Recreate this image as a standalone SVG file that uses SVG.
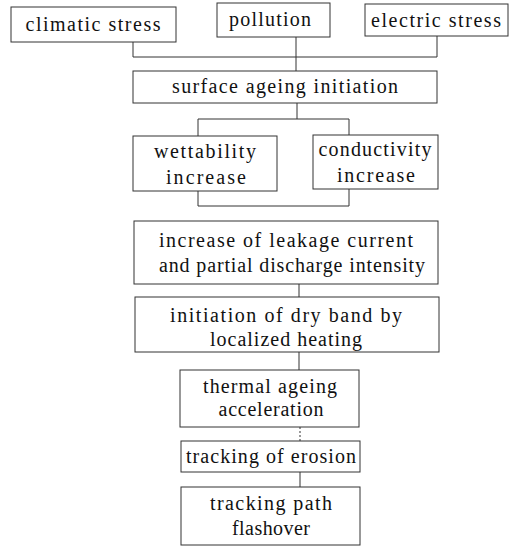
<svg xmlns="http://www.w3.org/2000/svg" width="515" height="546" viewBox="0 0 515 546">
<style>
.b{fill:#fff;stroke:#333;stroke-width:1}
.c{fill:none;stroke:#333;stroke-width:1}
text{font-size:20px;fill:#111;text-anchor:middle}
</style>
<g id="connectors">
<polyline class="c" points="133,42 133,57 437,57 437,36"/>
<line class="c" x1="296" y1="37" x2="296" y2="71"/>
<line class="c" x1="297" y1="103" x2="297" y2="119"/>
<polyline class="c" points="198,136 198,119 349,119 349,135"/>
<polyline class="c" points="198,191 198,206 349,206 349,189"/>
<line class="c" x1="299" y1="284" x2="299" y2="297"/>
<line class="c" x1="299" y1="352" x2="299" y2="370"/>
<line class="c" x1="300" y1="427" x2="300" y2="441" stroke-dasharray="2 2"/>
<line class="c" x1="300" y1="472" x2="300" y2="487"/>
</g>
<g font-family="Liberation Serif">
<g id="climatic"><rect class="b" x="11" y="7" width="165" height="35"/><text x="93" y="31" textLength="135" lengthAdjust="spacing">climatic stress</text></g>
<g id="pollution"><rect class="b" x="217" y="3" width="113" height="34"/><text x="270" y="26" textLength="82" lengthAdjust="spacing">pollution</text></g>
<g id="electric"><rect class="b" x="365" y="4" width="143" height="32"/><text x="436" y="27" textLength="130" lengthAdjust="spacing">electric stress</text></g>
<g id="surface"><rect class="b" x="133" y="71" width="304" height="32"/><text x="285" y="93" textLength="226" lengthAdjust="spacing">surface ageing initiation</text></g>
<g id="wettability"><rect class="b" x="133" y="136" width="144" height="55"/><text x="205" y="158" textLength="102" lengthAdjust="spacing">wettability</text><text x="206" y="184" textLength="80" lengthAdjust="spacing">increase</text></g>
<g id="conductivity"><rect class="b" x="313" y="135" width="125" height="54"/><text x="375" y="156" textLength="113" lengthAdjust="spacing">conductivity</text><text x="376" y="182" textLength="78" lengthAdjust="spacing">increase</text></g>
<g id="leakage"><rect class="b" x="134" y="221" width="304" height="63"/><text x="286" y="247" textLength="254" lengthAdjust="spacing">increase of leakage current</text><text x="292" y="272" textLength="266" lengthAdjust="spacing">and partial discharge intensity</text></g>
<g id="dryband"><rect class="b" x="135" y="297" width="304" height="55"/><text x="286" y="322" textLength="232" lengthAdjust="spacing">initiation of dry band by</text><text x="286" y="346" textLength="152" lengthAdjust="spacing">localized heating</text></g>
<g id="thermal"><rect class="b" x="180" y="370" width="179" height="57"/><text x="270" y="393" textLength="134" lengthAdjust="spacing">thermal ageing</text><text x="271" y="416" textLength="105" lengthAdjust="spacing">acceleration</text></g>
<g id="tracking"><rect class="b" x="181" y="441" width="179" height="31"/><text x="271" y="463" textLength="170" lengthAdjust="spacing">tracking of erosion</text></g>
<g id="flashover"><rect class="b" x="181" y="487" width="179" height="58"/><text x="271" y="510" textLength="122" lengthAdjust="spacing">tracking path</text><text x="271" y="535" textLength="78" lengthAdjust="spacing">flashover</text></g>
</g>
</svg>
